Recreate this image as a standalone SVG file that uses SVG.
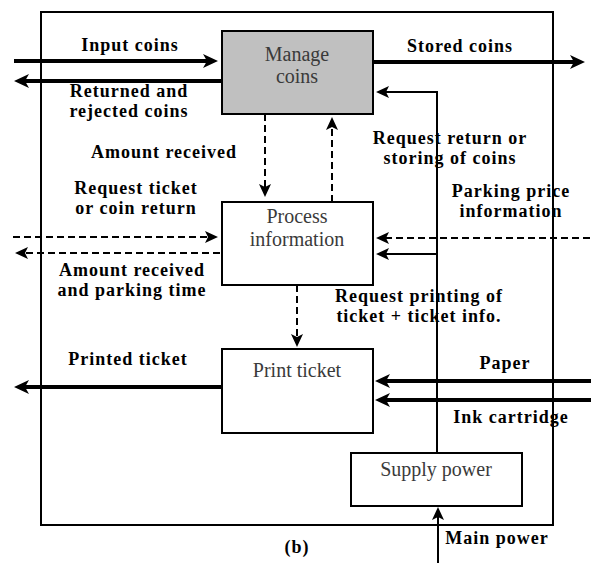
<svg xmlns="http://www.w3.org/2000/svg" width="591" height="563" viewBox="0 0 591 563">
<defs>
<style>
.box{fill:#fff;stroke:#000;stroke-width:2}
.gray{fill:#c0c0c0}
.nt{font-family:"Liberation Serif",serif;font-size:20px;fill:#3a3a3a;text-anchor:middle}
.lb{font-family:"Liberation Serif",serif;font-size:18px;font-weight:bold;fill:#000;text-anchor:middle;letter-spacing:1px}
.thick{stroke:#000;stroke-width:4;fill:none}
.thin{stroke:#000;stroke-width:2;fill:none}
.dash{stroke:#000;stroke-width:2;fill:none;stroke-dasharray:7 4}
</style>
<marker id="ah" markerUnits="userSpaceOnUse" markerWidth="18" markerHeight="18" refX="5" refY="8" orient="auto">
<path d="M0,1 L15,8 L0,15 L4,8 Z" fill="#000"/>
</marker>
<marker id="ahs" markerUnits="userSpaceOnUse" markerWidth="16" markerHeight="16" refX="4" refY="7" orient="auto">
<path d="M0,1 L13,7 L0,13 L3,7 Z" fill="#000"/>
</marker>
</defs>
<rect width="591" height="563" fill="#fff"/>
<rect id="boundary" x="41" y="12" width="512" height="513" fill="none" stroke="#000" stroke-width="2"/>
<g id="connectors">
<line class="thick" x1="14" y1="61" x2="208" y2="61" marker-end="url(#ah)"/>
<line class="thick" x1="222" y1="81" x2="24" y2="81" marker-end="url(#ah)"/>
<line class="thick" x1="373" y1="62" x2="575" y2="62" marker-end="url(#ah)"/>
<polyline class="thin" points="437,453 437,92 385,92" marker-end="url(#ahs)"/>
<line class="dash" x1="265" y1="114" x2="265" y2="188" marker-end="url(#ahs)"/>
<line class="dash" x1="332" y1="202" x2="332" y2="126" marker-end="url(#ahs)"/>
<line class="dash" x1="13" y1="237" x2="209" y2="237" marker-end="url(#ahs)"/>
<line class="dash" x1="220" y1="253" x2="24" y2="253" marker-end="url(#ahs)"/>
<line class="dash" x1="590" y1="238" x2="385" y2="238" marker-end="url(#ahs)"/>
<line class="thin" x1="437" y1="254" x2="385" y2="254" marker-end="url(#ahs)"/>
<line class="dash" x1="297" y1="285" x2="297" y2="338" marker-end="url(#ahs)"/>
<line class="thick" x1="222" y1="387" x2="24" y2="387" marker-end="url(#ah)"/>
<line class="thick" x1="591" y1="381" x2="385" y2="381" marker-end="url(#ah)"/>
<line class="thick" x1="591" y1="400" x2="385" y2="400" marker-end="url(#ah)"/>
<line class="thin" x1="438" y1="563" x2="438" y2="516" marker-end="url(#ahs)"/>
</g>
<g id="manage-coins">
<rect class="box gray" x="222" y="31" width="151" height="83"/>
<text class="nt" x="297" y="61">Manage</text>
<text class="nt" x="297" y="83">coins</text>
</g>
<g id="process-information">
<rect class="box" x="222" y="202" width="151" height="83"/>
<text class="nt" x="297" y="223">Process</text>
<text class="nt" x="297" y="246">information</text>
</g>
<g id="print-ticket">
<rect class="box" x="222" y="349" width="151" height="84"/>
<text class="nt" x="297" y="377">Print ticket</text>
</g>
<g id="supply-power">
<rect class="box" x="351" y="453" width="171" height="53"/>
<text class="nt" x="436" y="476">Supply power</text>
</g>
<g id="labels">
<text class="lb" x="130" y="51">Input coins</text>
<text class="lb" x="129" y="97">Returned and</text>
<text class="lb" x="129" y="117">rejected coins</text>
<text class="lb" x="164" y="158">Amount received</text>
<text class="lb" x="136" y="194">Request ticket</text>
<text class="lb" x="136" y="214">or coin return</text>
<text class="lb" x="132" y="276">Amount received</text>
<text class="lb" x="132" y="296">and parking time</text>
<text class="lb" x="128" y="365">Printed ticket</text>
<text class="lb" x="460" y="52">Stored coins</text>
<text class="lb" x="450" y="144">Request return or</text>
<text class="lb" x="450" y="164">storing of coins</text>
<text class="lb" x="511" y="197">Parking price</text>
<text class="lb" x="511" y="217">information</text>
<text class="lb" x="419" y="302">Request printing of</text>
<text class="lb" x="419" y="322">ticket + ticket info.</text>
<text class="lb" x="505" y="369">Paper</text>
<text class="lb" x="511" y="423">Ink cartridge</text>
<text class="lb" x="497" y="544">Main power</text>
<text class="lb" x="297" y="553">(b)</text>
</g>
</svg>
